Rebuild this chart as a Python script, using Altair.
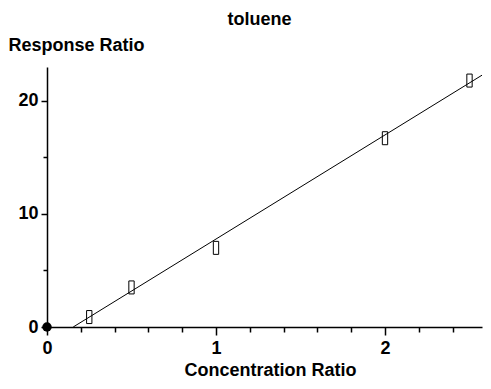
import altair as alt
import pandas as pd

conc = [0.25, 0.5, 1.0, 2.0, 2.5]
resp = [0.88, 3.5, 7.0, 16.7, 21.8]
origin_x = [0.0]
origin_y = [0.0]
fit_x = [0.155, 2.62]
fit_y = [0.0, 22.7]
x_ticks = [0.0, 0.2, 0.4, 0.6, 0.8, 1.0, 1.2, 1.4, 1.6, 1.8, 2.0, 2.2, 2.4, 2.6]
y_ticks = [0, 5, 10, 15, 20]

pts = pd.DataFrame({"x": conc, "y": resp})
org = pd.DataFrame({"x": origin_x, "y": origin_y})
fit = pd.DataFrame({"x": fit_x, "y": fit_y})

FONT = "Liberation Sans"
xs = alt.Scale(domain=[0, 2.574], nice=False, zero=False)
ys = alt.Scale(domain=[0, 23], nice=False, zero=False)

xaxis = alt.Axis(
    values=x_ticks, tickCount=50,
    labelExpr="abs(datum.value - round(datum.value)) < 0.001 ? format(datum.value, 'd') : ''",
    labelOverlap=False,
    tickSize={"condition": {"test": "abs(datum.value - round(datum.value)) < 0.001", "value": 8}, "value": 5},
    grid=False, domainColor="black", tickColor="black", domainWidth=1.5, tickWidth=1.5,
    labelFont=FONT, labelFontSize=18, labelFontWeight="bold", labelColor="black",
    labelPadding=4, title="Concentration Ratio", titleFont=FONT, titleFontSize=18,
    titleFontWeight="bold", titleColor="black", titlePadding=4, labelFlush=False,
    titleX=223, titleAlign="center",
)
yaxis = alt.Axis(
    values=y_ticks, tickCount=50,
    labelExpr="datum.value % 10 === 0 ? format(datum.value, 'd') : ''",
    labelOverlap=False,
    tickSize={"condition": {"test": "datum.value % 10 === 0", "value": 6}, "value": 4},
    grid=False, domainColor="black", tickColor="black", domainWidth=1.5, tickWidth=1.5,
    labelFont=FONT, labelFontSize=18, labelFontWeight="bold", labelColor="black",
    labelPadding=3, title="Response Ratio", titleFont=FONT, titleFontSize=18,
    titleFontWeight="bold", titleColor="black", titleAngle=0, titleAlign="left",
    titleBaseline="alphabetic", titleX=-39, titleY=-17, labelFlush=False,
)

line = alt.Chart(fit).mark_line(color="black", strokeWidth=1, clip=True).encode(
    x=alt.X("x:Q", scale=xs, axis=xaxis),
    y=alt.Y("y:Q", scale=ys, axis=yaxis),
)
rects = alt.Chart(pts).mark_point(
    shape="M-0.41,-1H0.41V1H-0.41Z", size=169, filled=False, color="black", strokeWidth=1, opacity=1
).encode(x=alt.X("x:Q", scale=xs), y=alt.Y("y:Q", scale=ys))
dot = alt.Chart(org).mark_point(
    shape="circle", size=90, filled=True, color="black", opacity=1
).encode(x=alt.X("x:Q", scale=xs), y=alt.Y("y:Q", scale=ys))

chart = alt.layer(line, rects, dot).properties(
    width=435, height=260,
    title=alt.TitleParams("toluene", font=FONT, fontSize=18, fontWeight="bold",
                          color="black", anchor="middle", dx=-5, offset=7),
    autosize=alt.AutoSizeParams(type="none"),
    padding={"left": 39, "top": 59, "right": 1, "bottom": 54},
).configure_view(stroke=None)

chart.save("out.html", embed_options={"renderer": "svg", "actions": False})
